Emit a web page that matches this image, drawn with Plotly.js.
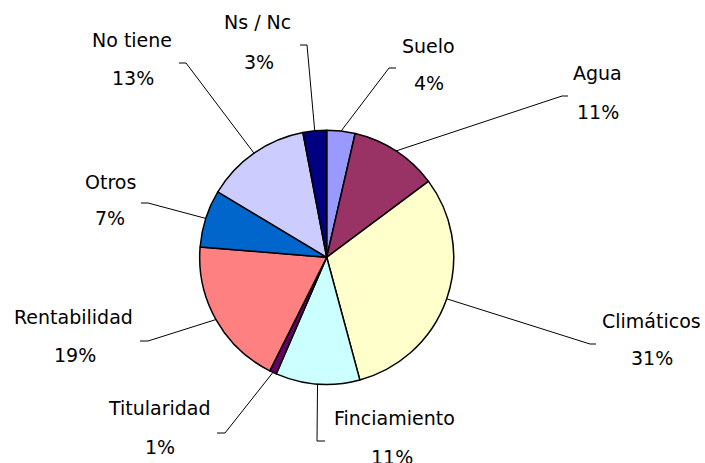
<!DOCTYPE html>
<html>
<head>
<meta charset="utf-8">
<script src="https://cdn.plot.ly/plotly-3.0.1.min.js"></script>
<style>
    html, body { margin: 0; padding: 0; background: #fff; }
    #chart { width: 705px; height: 463px; }
</style>
</head>
<body>
<div id="chart"></div>
<script>
// Slices, clockwise from 12 o'clock
const labels = ['Suelo', 'Agua', 'Climáticos', 'Finciamiento', 'Titularidad',
                'Rentabilidad', 'Otros', 'No tiene', 'Ns / Nc'];
const values = [3.6, 11.2, 31.0, 10.7, 0.9, 18.9, 7.3, 13.4, 3.0];
const sliceColors = ['#9999FF', '#993366', '#FFFFCC', '#CCFFFF', '#660066',
                     '#FF8080', '#0066CC', '#CCCCFF', '#000080'];

// Frame and pie geometry (pixels)
const W = 705, H = 463;
const cx = 326.7, cy = 257.3, r = 127;

// Where each label sits (pixels), and where its leader line bends
const namePos = [[428, 46], [597, 73], [651, 321], [394, 418], [159, 408],
                 [73, 317], [110, 182], [132, 40], [257, 22]];
const pctPos  = [[429, 83], [598, 112], [652, 358], [392, 457], [160, 447],
                 [75, 355], [110, 218], [133, 78], [259, 62]];
const elbows  = [[389, 68], [562, 96], [590, 344], [317, 441], [225, 433],
                 [148, 341], [148, 203], [186, 63], [307, 45]];
const hooks   = [7, 6, 6, 8, -8, -8, -7, -7, -7];

const px = x => x / W;
const py = y => 1 - y / H;

const total = values.reduce((a, b) => a + b, 0);
const annotations = [];
const shapes = [];
let cum = 0;

values.forEach((v, i) => {
    // leader line starts on the rim at the slice's mid angle
    const mid = (cum + v / 2) / total * 2 * Math.PI;
    cum += v;
    const sx = cx + r * Math.sin(mid);
    const sy = cy - r * Math.cos(mid);
    const [ex, ey] = elbows[i];
    shapes.push({
        type: 'path', xref: 'paper', yref: 'paper',
        path: `M ${px(sx)},${py(sy)} L ${px(ex)},${py(ey)} L ${px(ex + hooks[i])},${py(ey)}`,
        line: { color: '#000', width: 1 }
    });

    const font = { family: 'DejaVu Sans', size: 19, color: '#000' };
    annotations.push({
        xref: 'paper', yref: 'paper', x: px(namePos[i][0]), y: py(namePos[i][1]),
        xanchor: 'center', yanchor: 'middle', showarrow: false,
        text: labels[i], font: font
    });
    annotations.push({
        xref: 'paper', yref: 'paper', x: px(pctPos[i][0]), y: py(pctPos[i][1]),
        xanchor: 'center', yanchor: 'middle', showarrow: false,
        text: Math.round(v / total * 100) + '%', font: font
    });
});

const trace = {
    type: 'pie',
    labels: labels,
    values: values,
    sort: false,
    direction: 'clockwise',
    rotation: 0,
    textinfo: 'none',
    hoverinfo: 'label+percent',
    marker: { colors: sliceColors, line: { color: '#000', width: 1.5 } },
    domain: { x: [px(cx - r), px(cx + r)], y: [py(cy + r), py(cy - r)] }
};

const layout = {
    width: W,
    height: H,
    margin: { l: 0, r: 0, t: 0, b: 0 },
    paper_bgcolor: '#fff',
    showlegend: false,
    annotations: annotations,
    shapes: shapes
};

Plotly.newPlot('chart', [trace], layout, { displayModeBar: false, staticPlot: true });
</script>
</body>
</html>
